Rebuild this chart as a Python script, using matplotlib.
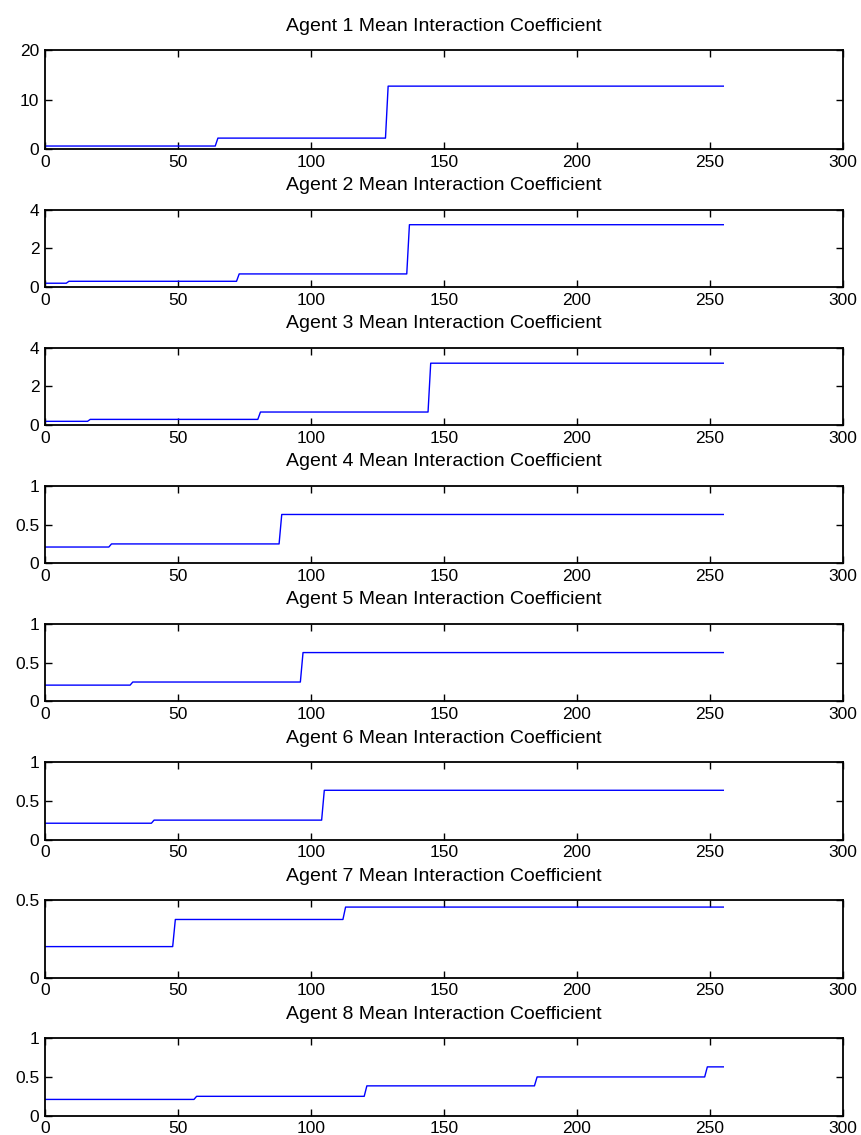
import numpy as np
import matplotlib
matplotlib.use('Agg')
import matplotlib.pyplot as plt
from matplotlib.ticker import FormatStrFormatter

plt.rcParams['font.family'] = ['Liberation Sans', 'DejaVu Sans']

n_steps = 256

# Index where each agent's coefficient jumps, and the level held after each jump
agent_jumps = [
    [64, 128],
    [8, 72, 136],
    [16, 80, 144],
    [24, 88],
    [32, 96],
    [40, 104],
    [48, 112],
    [56, 120, 184, 248],
]
agent_levels = [
    [0.6, 2.2, 12.7],
    [0.2, 0.3, 0.68, 3.22],
    [0.2, 0.3, 0.68, 3.2],
    [0.21, 0.25, 0.63],
    [0.21, 0.25, 0.63],
    [0.21, 0.25, 0.635],
    [0.2, 0.375, 0.455],
    [0.21, 0.25, 0.385, 0.5, 0.63],
]
y_limits = [20, 4, 4, 1, 1, 1, 0.5, 1]
y_ticks = [
    [0, 10, 20],
    [0, 2, 4],
    [0, 2, 4],
    [0, 0.5, 1],
    [0, 0.5, 1],
    [0, 0.5, 1],
    [0, 0.5],
    [0, 0.5, 1],
]
x_ticks = [0, 50, 100, 150, 200, 250, 300]


def step_series(jumps, levels):
    series = np.full(n_steps, levels[0], dtype=float)
    for j, lvl in zip(jumps, levels[1:]):
        series[j + 1:] = lvl
    return series


W, H = 862, 1135
fig = plt.figure(figsize=(W / 100, H / 100), dpi=100)

left, right = 45, 843
step = 138.1
for i in range(8):
    bottom = 149 + step * i
    top = 50 if i == 0 else bottom - 77.5
    ax = fig.add_axes([left / W, 1 - bottom / H, (right - left) / W, (bottom - top) / H])
    ax.plot(np.arange(n_steps), step_series(agent_jumps[i], agent_levels[i]),
            color='blue', linewidth=1.0)
    ax.set_xlim(0, 300)
    ax.set_ylim(0, y_limits[i])
    ax.set_xticks(x_ticks)
    ax.set_yticks(y_ticks[i])
    ax.yaxis.set_major_formatter(FormatStrFormatter('%g'))
    ax.tick_params(direction='in', top=True, right=True, length=5, width=1,
                   labelsize=12.5, pad=4)
    for sp in ax.spines.values():
        sp.set_linewidth(1.3)
    ax.set_title('Agent %d Mean Interaction Coefficient' % (i + 1),
                 fontsize=14, pad=14)

fig.savefig('out.png', dpi=100)
